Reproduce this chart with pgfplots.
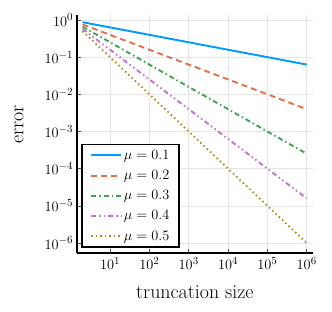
\documentclass[border=0pt]{standalone}
\usepackage{pgfplots}
\pgfplotsset{compat=1.18}
\definecolor{c1}{RGB}{0,154,250}
\definecolor{c2}{RGB}{227,111,71}
\definecolor{c3}{RGB}{62,164,78}
\definecolor{c4}{RGB}{195,113,210}
\definecolor{c5}{RGB}{172,142,24}
\begin{document}
\begin{tikzpicture}
\begin{axis}[
  name=ax, at={(0,0)}, anchor=south west,
  scale only axis, width=236.3bp, height=238bp,
  xmode=log, ymode=log,
  xmin=1.42, xmax=1.445e6, ymin=5.37e-7, ymax=1.36,
  xtick={10,100,1000,10000,100000,1000000},
  ytick={1e-6,1e-5,1e-4,1e-3,1e-2,1e-1,1},
  xminorticks=false, yminorticks=false,
  axis lines*=left, axis line style={-, line width=1.8bp, black},
  grid=major, major grid style={black!10, line width=0.6bp},
  tick align=inside, major tick length=4bp, tick style={black!70, line width=0.5bp},
  ticklabel style={font=\fontsize{15.5}{15.5}\selectfont},
  xticklabel style={yshift=-1bp},
  xlabel={truncation size}, ylabel={error},
  label style={font=\fontsize{20}{20}\selectfont},
  xlabel style={at={(axis description cs:0.5,-0.164)}, anchor=center},
  ylabel style={at={(axis description cs:-0.244,0.54)}, anchor=center},
  legend style={at={(axis description cs:0.019,0.021)}, anchor=south west, draw=black, line width=1.8bp,
    font=\fontsize{15.5}{15.5}\selectfont, inner xsep=8bp, inner ysep=3.5bp, row sep=5.5bp},
  legend cell align=left,
  legend image code/.code={\draw[#1] (0cm,0cm) -- (30bp,0cm);},
]
\addplot[c1, line width=1.9bp, solid] coordinates {(2,0.8706) (10,0.631) (100,0.398) (1000,0.251) (10000,0.158) (100000,0.1) (1000000,0.0631)};
\addlegendentry{$\mu = 0.1$}
\addplot[c2, line width=1.9bp, dash pattern=on 6bp off 4bp] coordinates {(2,0.758) (10,0.398) (100,0.158) (1000,0.0631) (10000,0.0251) (100000,0.01) (1000000,0.00398)};
\addlegendentry{$\mu = 0.2$}
\addplot[c3, line width=1.9bp, dash pattern=on 5bp off 3bp on 1.5bp off 3bp] coordinates {(2,0.660) (10,0.251) (100,0.0631) (1000,0.0158) (10000,0.00398) (100000,0.001) (1000000,0.000251)};
\addlegendentry{$\mu = 0.3$}
\addplot[c4, line width=1.9bp, dash pattern=on 5bp off 3bp on 1.5bp off 3bp on 1.5bp off 3bp] coordinates {(2,0.574) (10,0.158) (100,0.0251) (1000,0.00398) (10000,0.000631) (100000,0.0001) (1000000,0.0000158)};
\addlegendentry{$\mu = 0.4$}
\addplot[c5, line width=1.9bp, dash pattern=on 1.5bp off 3bp] coordinates {(2,0.5) (10,0.1) (100,0.01) (1000,0.001) (10000,0.0001) (100000,0.00001) (1000000,0.000001)};
\addlegendentry{$\mu = 0.5$}
\end{axis}
\pgfresetboundingbox
\path[use as bounding box] (-76.7bp,-59bp) rectangle (255.3bp,253bp);
\end{tikzpicture}
\end{document}
